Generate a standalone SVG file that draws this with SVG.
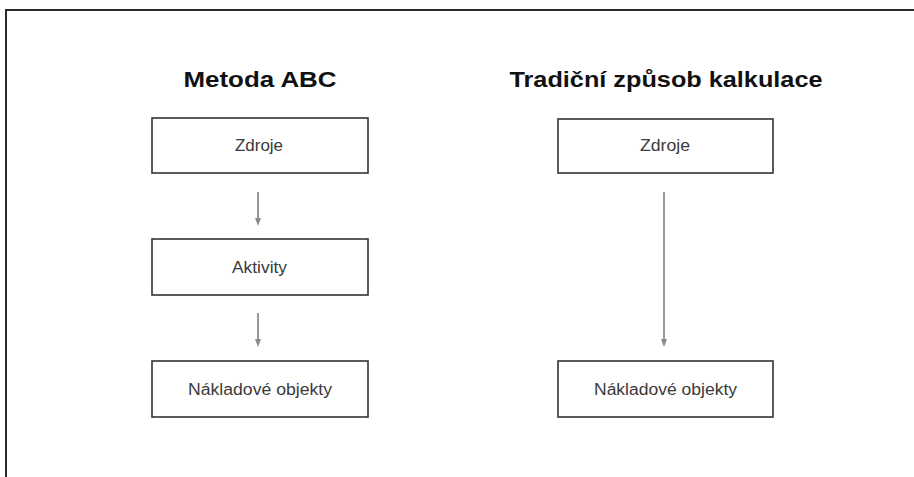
<svg xmlns="http://www.w3.org/2000/svg" width="914" height="477" viewBox="0 0 914 477">
<defs>
<marker id="ah" markerWidth="8" markerHeight="8" refX="4" refY="4" orient="auto" markerUnits="userSpaceOnUse">
<path d="M0,1 L8,4 L0,7 Z" fill="#8a8a8a"/>
</marker>
</defs>
<style>
.frame{fill:none;stroke:#2a2a2a;stroke-width:2}
.box{fill:#fff;stroke:#333;stroke-width:1.6}
.lbl{font-family:"Liberation Sans",Arial,sans-serif;font-size:16px;fill:#3a3a3a;text-anchor:middle}
.ttl{font-family:"Liberation Sans",Arial,sans-serif;font-size:22.5px;font-weight:bold;fill:#111;text-anchor:middle}
.con{stroke:#999;stroke-width:2;fill:none;marker-end:url(#ah)}
</style>
<rect width="914" height="477" fill="#fff"/>
<path class="frame" d="M6,477 V10 H914"/>
<text class="ttl" x="260" y="87" textLength="153" lengthAdjust="spacingAndGlyphs">Metoda ABC</text>
<text class="ttl" x="666" y="87" textLength="313" lengthAdjust="spacingAndGlyphs">Tradiční způsob kalkulace</text>
<g id="connectors">
<line class="con" x1="258" y1="192" x2="258" y2="222"/>
<line class="con" x1="258" y1="313" x2="258" y2="343"/>
<line class="con" x1="664" y1="192" x2="664" y2="343"/>
</g>
<g id="abc-zdroje"><rect class="box" x="152" y="118" width="216" height="55"/><text class="lbl" x="259" y="151" textLength="48" lengthAdjust="spacingAndGlyphs">Zdroje</text></g>
<g id="abc-aktivity"><rect class="box" x="152" y="239" width="216" height="56"/><text class="lbl" x="259.5" y="272.5" textLength="55" lengthAdjust="spacingAndGlyphs">Aktivity</text></g>
<g id="abc-naklady"><rect class="box" x="152" y="361" width="216" height="56"/><text class="lbl" x="260" y="394.5" textLength="144" lengthAdjust="spacingAndGlyphs">Nákladové objekty</text></g>
<g id="trad-zdroje"><rect class="box" x="558" y="119" width="215" height="54"/><text class="lbl" x="665" y="151" textLength="50" lengthAdjust="spacingAndGlyphs">Zdroje</text></g>
<g id="trad-naklady"><rect class="box" x="558" y="361" width="215" height="56"/><text class="lbl" x="665.5" y="394.5" textLength="143" lengthAdjust="spacingAndGlyphs">Nákladové objekty</text></g>
</svg>
